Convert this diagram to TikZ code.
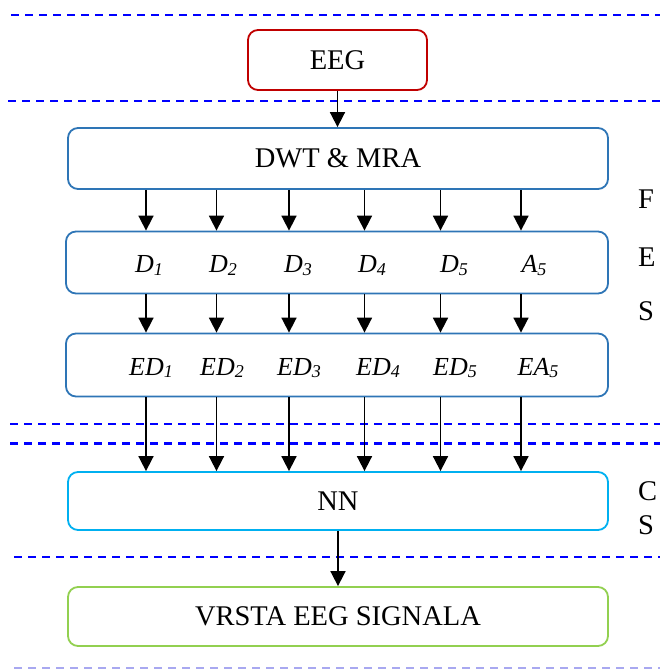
\documentclass[tikz,border=0pt]{standalone}
\usepackage{fontspec}
\setmainfont{Liberation Serif}
\usetikzlibrary{arrows.meta,calc}

\definecolor{srcred}{HTML}{C00000}
\definecolor{procblue}{HTML}{2E75B6}
\definecolor{nncyan}{HTML}{00B0F0}
\definecolor{outgreen}{HTML}{92D050}
\definecolor{sepblue}{HTML}{0000FF}
\definecolor{sepfaint}{HTML}{A8A8F0}

% italic label with a lowered subscript
\newcommand{\coef}[2]{{\fontsize{26}{26}\selectfont\itshape #1\raisebox{-2.5pt}{\fontsize{18}{18}\selectfont #2}}}

\tikzset{
  stage/.style={draw, line width=1.8pt, rounded corners=10pt, inner sep=0pt,
                font=\fontsize{28.5}{28.5}\selectfont},
  coeflabel/.style={anchor=base, inner sep=0pt},
  sidelabel/.style={anchor=base west, inner sep=0pt, font=\fontsize{28.5}{28.5}\selectfont},
  sep/.style={sepblue, line width=2.2pt, dash pattern=on 8pt off 6pt},
  arr/.style={line width=1.7pt, -{Triangle[width=15pt,length=15pt]}}
}

\begin{document}
\begin{tikzpicture}[x=1pt, y=-1pt]
\useasboundingbox (0,0) rectangle (660,670);

% separators between the processing levels
\draw[sep] (11,15) -- (660,15);
\draw[sep] (8,101) -- (660,101);
\draw[sep] (10,424) -- (660,424);
\draw[sep] (10,443.5) -- (660,443.5);
\draw[sep] (14,557) -- (660,557);
\draw[sep, sepfaint, line width=1.5pt] (14,668) -- (660,668);

% stages
\node[stage, srcred, text=black, minimum width=179pt, minimum height=60pt] (eeg) at (337.5,60) {EEG};
\node[stage, procblue, text=black, minimum width=540pt, minimum height=61pt] (dwt) at (338,158.5) {DWT \& MRA};
\node[stage, procblue, text=black, minimum width=542pt, minimum height=62pt] (dec) at (337,262.5) {};
\node[stage, procblue, text=black, minimum width=542pt, minimum height=63pt] (ene) at (337,365) {};
\node[stage, nncyan, text=black, minimum width=540pt, minimum height=58pt] (nn) at (338,501) {NN};
\node[stage, outgreen, text=black, minimum width=540pt, minimum height=59pt] (out) at (338,616.5) {VRSTA EEG SIGNALA};

% sub-band columns
\coordinate (c1) at (146,0);
\coordinate (c2) at (216.5,0);
\coordinate (c3) at (289,0);
\coordinate (c4) at (364.5,0);
\coordinate (c5) at (440.5,0);
\coordinate (c6) at (521,0);

% decomposition coefficients
\node[coeflabel] (d1) at (149,272.7) {\coef{D}{1}};
\node[coeflabel] (d2) at (223,272.7) {\coef{D}{2}};
\node[coeflabel] (d3) at (298,272.7) {\coef{D}{3}};
\node[coeflabel] (d4) at (372,272.7) {\coef{D}{4}};
\node[coeflabel] (d5) at (454,272.7) {\coef{D}{5}};
\node[coeflabel] (a5) at (534,272.7) {\coef{A}{5}};

% energies of the coefficients
\node[coeflabel] (ed1) at (151,375) {\coef{ED}{1}};
\node[coeflabel] (ed2) at (222,375) {\coef{ED}{2}};
\node[coeflabel] (ed3) at (299,375) {\coef{ED}{3}};
\node[coeflabel] (ed4) at (378,375) {\coef{ED}{4}};
\node[coeflabel] (ed5) at (455,375) {\coef{ED}{5}};
\node[coeflabel] (ea5) at (538,375) {\coef{EA}{5}};

% side labels
\node[sidelabel] (lf) at (638,208) {F};
\node[sidelabel] (le) at (638,266.5) {E};
\node[sidelabel] (ls) at (638,320.5) {S};
\node[sidelabel] (lc) at (638,500) {C};
\node[sidelabel] (ls2) at (638,534.5) {S};

% connectors
\draw[arr] (eeg.south) -- (dwt.north -| eeg.south);
\foreach \c in {c1,c2,c3,c4,c5,c6}{
  \draw[arr] (dwt.south -| \c) -- (dec.north -| \c);
  \draw[arr] (dec.south -| \c) -- (ene.north -| \c);
  \draw[arr] (ene.south -| \c) -- (nn.north -| \c);
}
\draw[arr] (nn.south) -- (out.north);
\end{tikzpicture}
\end{document}
